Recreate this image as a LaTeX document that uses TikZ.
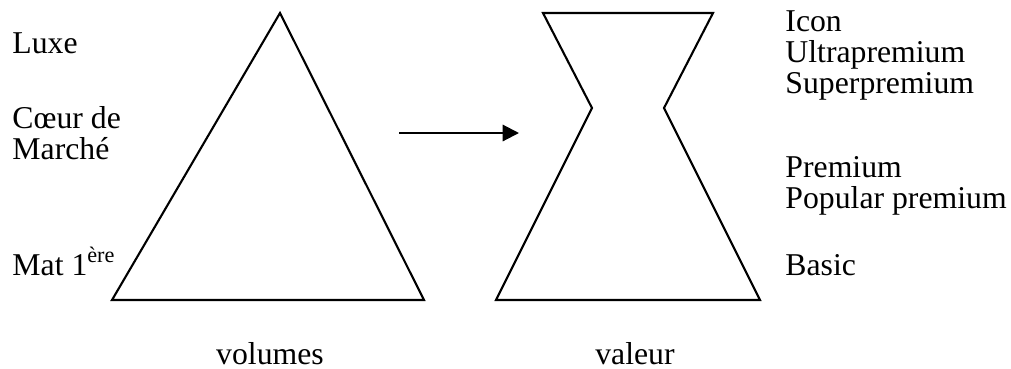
\documentclass[tikz,border=0pt]{standalone}
\usepackage{fontspec}
\setmainfont{Liberation Serif}
\usetikzlibrary{arrows.meta}

\tikzset{
  lbl/.style={anchor=base west, inner sep=0pt},
  caption/.style={anchor=base, inner sep=0pt},
  outline/.style={line width=0.9pt, line join=miter}
}

\begin{document}
\begin{tikzpicture}[x=0.4286pt, y=-0.4286pt, font=\fontsize{13.6}{15.6}\selectfont]
\useasboundingbox (0,0) rectangle (1011,368);
% volumes
\coordinate (T) at (280,13);
\coordinate (BL) at (112,300);
\coordinate (BR) at (424,300);
\draw[outline] (T) -- (BR) -- (BL) -- cycle;
% valeur
\coordinate (H1) at (543,13);
\coordinate (H2) at (713,13);
\coordinate (H3) at (664,108);
\coordinate (H4) at (760,300);
\coordinate (H5) at (496,300);
\coordinate (H6) at (592,108);
\draw[outline] (H1) -- (H2) -- (H3) -- (H4) -- (H5) -- (H6) -- cycle;
% arrow
\coordinate (A) at (399,133);
\coordinate (B) at (519,133);
\draw[line width=0.9pt, -{Triangle[length=7pt, width=7pt]}] (A) -- (B);
% left labels
\node[lbl] (luxe) at (12,53) {Luxe};
\node[lbl] (coeur) at (12,128) {Cœur de};
\node[lbl] (marche) at (12,159) {Marché};
\node[lbl] (mat) at (12,275) {Mat 1\textsuperscript{ère}};
% right labels
\node[lbl] (icon) at (785,31) {Icon};
\node[lbl] (ultra) at (785,62) {Ultrapremium};
\node[lbl] (super) at (785,93) {Superpremium};
\node[lbl] (prem) at (785,177) {Premium};
\node[lbl] (pop) at (785,208) {Popular premium};
\node[lbl] (basic) at (785,275) {Basic};
% bottom captions
\node[caption] (vol) at (270,364) {volumes};
\node[caption] (val) at (635,364) {valeur};
\end{tikzpicture}
\end{document}
